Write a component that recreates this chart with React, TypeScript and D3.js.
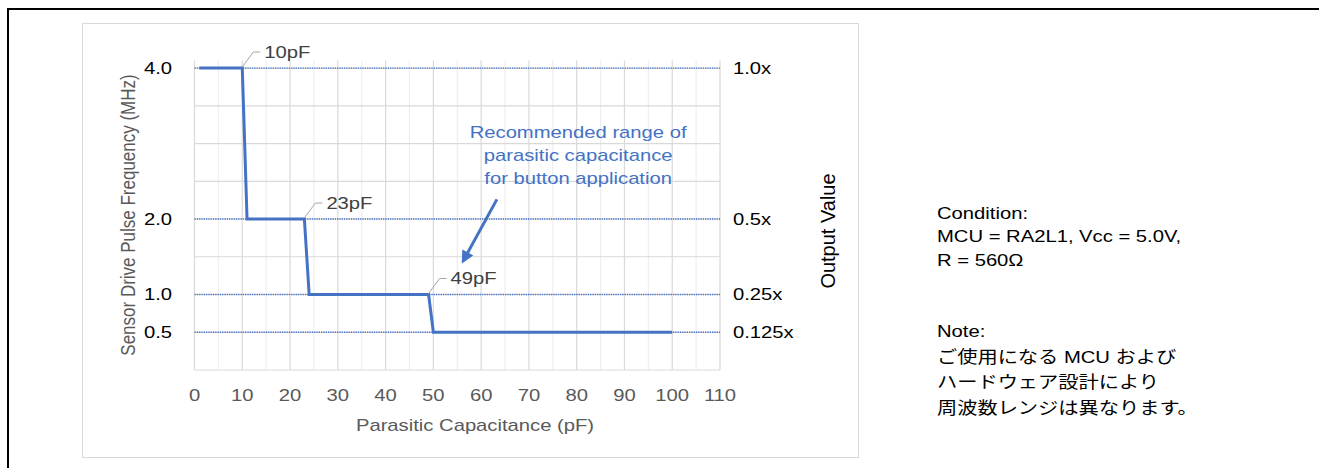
import React from "react";
import * as d3 from "d3";

// step curve: sensor drive frequency vs parasitic capacitance
const capX = [1, 10, 11, 23, 24, 49, 50, 100];
const freqY = [4, 4, 2, 2, 1, 1, 0.5, 0.5];

// frequency levels with their output value labels
const levels = [4, 2, 1, 0.5];
const leftLabels = ["4.0", "2.0", "1.0", "0.5"];
const rightLabels = ["1.0x", "0.5x", "0.25x", "0.125x"];

const xTicks = [0, 10, 20, 30, 40, 50, 60, 70, 80, 90, 100, 110];

// breakpoint callouts
const callouts = [
  { x: 10, y: 4, text: "10pF" },
  { x: 23, y: 2, text: "23pF" },
  { x: 49, y: 1, text: "49pF" },
];

const noteLines = ["Recommended range of", "parasitic capacitance", "for button application"];
const arrowFrom = { x: 63.3, y: 2.26 };
const arrowTo = { x: 56.2, y: 1.44 };

const conditionLines = ["Condition:", "MCU = RA2L1, Vcc = 5.0V,", "R = 560Ω"];
const noteJa = ["Note:", "ご使用になる MCU および", "ハードウェア設計により", "周波数レンジは異なります。"];

const W = 1319, H = 468;
const SX = 1.19; // the picture is stretched horizontally
const FONT = "'Liberation Sans', Arial, 'Noto Sans CJK JP', sans-serif";
const BLUE = "#4472C4";

const T: React.FC<{
  x: number; y: number; anchor?: string; fill?: string; rot?: boolean; size?: number; sx?: number; children: React.ReactNode;
}> = ({ x, y, anchor = "start", fill = "#000", rot = false, size = 17, sx = SX, children }) => (
  <text
    transform={`translate(${x},${y}) scale(${sx},1)${rot ? " rotate(-90)" : ""}`}
    textAnchor={anchor}
    dominantBaseline="central"
    fill={fill}
    fontSize={size}
    fontFamily={FONT}
  >
    {children}
  </text>
);

export default function App() {
  const x = d3.scaleLinear().domain([0, 110]).range([194.5, 720]);
  const y = d3.scaleLinear().domain([0, 4.1]).range([370, 60.5]);

  const pts: [number, number][] = capX.map((c, i) => [c, freqY[i]]);
  const line = d3.line<[number, number]>().x(d => x(d[0])).y(d => y(d[1]));

  const vGrid = d3.range(0, 111, 5);
  const hGrid = d3.range(0, 4.01, 0.5);

  return (
    <svg width={W} height={H} style={{ position: "absolute", left: 0, top: 0, background: "#fff" }}>
      <defs>
        <marker id="ah" viewBox="0 0 10 10" refX="8" refY="5" markerWidth="4.5" markerHeight="4.2" orient="auto">
          <path d="M0,0 L10,5 L0,10 z" fill={BLUE} />
        </marker>
      </defs>
      {/* outer frame */}
      <line x1={8} y1={9} x2={W} y2={9} stroke="#000" strokeWidth={2} />
      <line x1={8} y1={8} x2={8} y2={H} stroke="#000" strokeWidth={2} />
      {/* chart area */}
      <rect x={82.5} y={23.5} width={776} height={434} fill="#fff" stroke="#d9d9d9" />

      {/* grid */}
      {vGrid.map(v => (
        <line key={"v" + v} x1={x(v)} x2={x(v)} y1={y(4.1)} y2={y(0)}
          stroke={v % 10 === 0 ? "#d9d9d9" : "#eeeeee"} strokeWidth={1.2} />
      ))}
      {hGrid.map(v => (
        <line key={"h" + v} x1={x(0)} x2={x(110)} y1={y(v)} y2={y(v)} stroke="#d9d9d9" strokeWidth={1.2} />
      ))}

      {/* level dotted lines */}
      {levels.map(l => (
        <line key={"l" + l} x1={x(0)} x2={x(110)} y1={y(l)} y2={y(l)}
          stroke={BLUE} strokeWidth={1.3} strokeDasharray="1.3 1" />
      ))}

      {/* step line */}
      <path d={line(pts) || ""} fill="none" stroke={BLUE} strokeWidth={3} />

      {/* callouts */}
      {callouts.map(c => {
        const px = x(c.x), py = y(c.y);
        return (
          <g key={c.text}>
            <polyline points={`${px},${py - 1} ${px + 11},${py - 16} ${px + 18},${py - 16}`}
              fill="none" stroke="#a6a6a6" strokeWidth={1} />
            <T x={px + 22} y={py - 16} fill="#404040">{c.text}</T>
          </g>
        );
      })}

      {/* recommended range note */}
      {noteLines.map((s, i) => (
        <T key={s} x={x(80.3)} y={132 + i * 23} anchor="middle" fill={BLUE}>{s}</T>
      ))}
      <line x1={x(arrowFrom.x)} y1={y(arrowFrom.y)} x2={x(arrowTo.x)} y2={y(arrowTo.y)}
        stroke={BLUE} strokeWidth={3} markerEnd="url(#ah)" />

      {/* axes labels */}
      {levels.map((l, i) => (
        <g key={"t" + l}>
          <T x={172} y={y(l)} anchor="end">{leftLabels[i]}</T>
          <T x={733} y={y(l)}>{rightLabels[i]}</T>
        </g>
      ))}
      {xTicks.map(t => (
        <T key={"x" + t} x={x(t)} y={395} anchor="middle" fill="#595959">{t}</T>
      ))}
      <T x={475} y={425} anchor="middle" fill="#595959">Parasitic Capacitance (pF)</T>
      <T x={128} y={215} anchor="middle" fill="#595959" rot>Sensor Drive Pulse Frequency (MHz)</T>
      <T x={827} y={231} anchor="middle" fill="#000" rot size={20} sx={1.05}>Output Value</T>

      {/* side notes */}
      {conditionLines.map((s, i) => (
        <T key={s} x={937} y={213 + i * 23.5}>{s}</T>
      ))}
      {noteJa.map((s, i) => (
        <T key={s} x={937} y={331 + i * 25.7}>{s}</T>
      ))}
    </svg>
  );
}
